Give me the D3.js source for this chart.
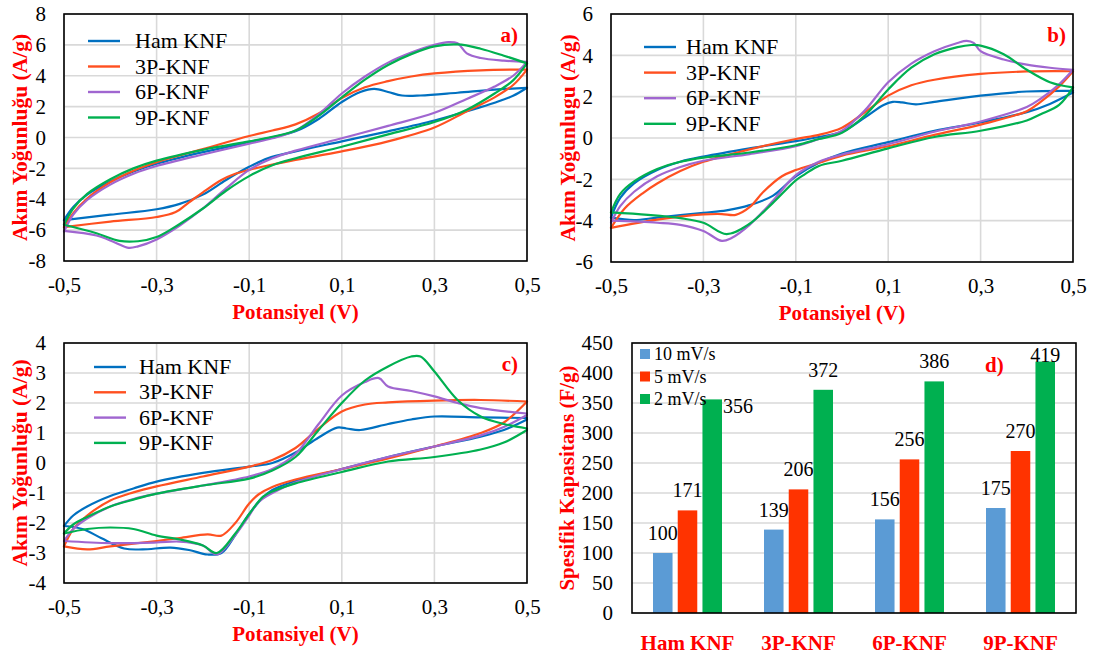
<!DOCTYPE html>
<html>
<head>
<meta charset="utf-8">
<script src="https://cdn.jsdelivr.net/npm/d3@7"></script>
<style>
  html, body { margin: 0; padding: 0; background: #fff; }
  svg { display: block; }
  svg text { font-family: "Liberation Serif", "Times New Roman", Tinos, "DejaVu Serif", serif; }
</style>
</head>
<body>
<svg id="fig" width="1096" height="654"></svg>
<script>
// ---------- shared axis values ----------
const potentialTicks = [-0.5, -0.3, -0.1, 0.1, 0.3, 0.5];
const sampleNames = ["Ham KNF", "3P-KNF", "6P-KNF", "9P-KNF"];
const scanRates = ["10 mV/s", "5 mV/s", "2 mV/s"];

// ---------- a) CV curves: [potential V, current A/g], anodic then cathodic scan ----------
const aHamFwd = [[-0.5,-5.35],[-0.48,-4.5],[-0.45,-3.7],[-0.4,-2.85],[-0.35,-2.2],[-0.3,-1.7],[-0.2,-0.95],[-0.1,-0.3],[0,0.4],[0.05,1.2],[0.1,2.3],[0.14,2.95],[0.17,3.15],[0.2,2.95],[0.23,2.72],[0.27,2.72],[0.35,2.9],[0.43,3.1],[0.5,3.22]];
const aHamRev = [[0.5,3.22],[0.47,2.7],[0.43,2.25],[0.37,1.7],[0.3,1.1],[0.2,0.4],[0.1,-0.25],[0,-0.9],[-0.06,-1.35],[-0.1,-1.9],[-0.15,-2.75],[-0.2,-3.7],[-0.25,-4.3],[-0.3,-4.65],[-0.4,-5.0],[-0.5,-5.35]];
const a3PFwd = [[-0.5,-5.8],[-0.48,-4.9],[-0.45,-3.95],[-0.4,-2.9],[-0.35,-2.15],[-0.3,-1.6],[-0.2,-0.75],[-0.1,0.1],[-0.05,0.45],[0,0.85],[0.05,1.55],[0.1,2.55],[0.15,3.25],[0.2,3.65],[0.25,3.95],[0.3,4.15],[0.4,4.35],[0.5,4.4]];
const a3PRev = [[0.5,4.4],[0.47,3.4],[0.43,2.6],[0.37,1.7],[0.3,0.65],[0.2,-0.25],[0.1,-0.9],[0,-1.45],[-0.05,-1.75],[-0.1,-2.1],[-0.13,-2.35],[-0.16,-2.75],[-0.2,-3.55],[-0.23,-4.2],[-0.26,-4.85],[-0.3,-5.15],[-0.4,-5.45],[-0.5,-5.8]];
const a6PFwd = [[-0.5,-6.1],[-0.48,-5.0],[-0.45,-4.05],[-0.4,-3.05],[-0.35,-2.35],[-0.3,-1.85],[-0.2,-1.1],[-0.1,-0.4],[-0.05,-0.05],[0,0.45],[0.05,1.5],[0.1,2.85],[0.15,3.95],[0.2,4.85],[0.25,5.5],[0.3,6.0],[0.33,6.18],[0.35,6.1],[0.37,5.45],[0.4,5.15],[0.45,4.98],[0.5,4.9]];
const a6PRev = [[0.5,4.9],[0.47,4.0],[0.43,3.3],[0.37,2.5],[0.3,1.6],[0.2,0.75],[0.1,-0.05],[0,-0.85],[-0.05,-1.35],[-0.1,-2.1],[-0.15,-3.3],[-0.2,-4.6],[-0.25,-5.7],[-0.3,-6.6],[-0.34,-7.05],[-0.36,-7.15],[-0.39,-6.8],[-0.43,-6.35],[-0.5,-6.05]];
const a9PFwd = [[-0.5,-5.65],[-0.48,-4.6],[-0.45,-3.65],[-0.4,-2.7],[-0.35,-2.0],[-0.3,-1.5],[-0.2,-0.8],[-0.1,-0.25],[-0.05,0.05],[0,0.45],[0.05,1.4],[0.1,2.6],[0.15,3.75],[0.2,4.7],[0.25,5.4],[0.3,5.9],[0.35,6.03],[0.4,5.75],[0.45,5.3],[0.5,4.8]];
const a9PRev = [[0.5,4.8],[0.47,3.7],[0.43,2.85],[0.37,1.8],[0.3,1.0],[0.2,0.2],[0.1,-0.6],[0,-1.35],[-0.05,-1.8],[-0.1,-2.5],[-0.15,-3.45],[-0.2,-4.6],[-0.25,-5.6],[-0.3,-6.45],[-0.34,-6.72],[-0.38,-6.7],[-0.43,-6.2],[-0.5,-5.65]];

// ---------- b) ----------
const bHamFwd = [[-0.5,-3.85],[-0.48,-2.9],[-0.45,-2.2],[-0.4,-1.55],[-0.35,-1.15],[-0.3,-0.9],[-0.2,-0.5],[-0.1,-0.15],[-0.05,0.05],[0,0.3],[0.05,1.0],[0.09,1.6],[0.11,1.75],[0.13,1.72],[0.16,1.63],[0.2,1.75],[0.3,2.05],[0.4,2.25],[0.5,2.28]];
const bHamRev = [[0.5,2.2],[0.45,1.65],[0.4,1.25],[0.3,0.75],[0.2,0.35],[0.1,-0.2],[0,-0.75],[-0.05,-1.2],[-0.1,-1.85],[-0.15,-2.8],[-0.2,-3.25],[-0.25,-3.5],[-0.3,-3.62],[-0.4,-3.85],[-0.45,-3.97],[-0.5,-3.85]];
const b3PFwd = [[-0.5,-4.35],[-0.47,-3.4],[-0.43,-2.65],[-0.4,-2.2],[-0.35,-1.6],[-0.3,-1.15],[-0.2,-0.55],[-0.1,-0.05],[-0.05,0.15],[0,0.5],[0.05,1.25],[0.1,2.05],[0.15,2.55],[0.2,2.82],[0.3,3.1],[0.4,3.22],[0.5,3.23]];
const b3PRev = [[0.5,3.23],[0.47,2.5],[0.43,1.75],[0.4,1.3],[0.3,0.65],[0.2,0.15],[0.1,-0.4],[0,-0.85],[-0.05,-1.2],[-0.1,-1.55],[-0.13,-1.85],[-0.17,-2.6],[-0.2,-3.35],[-0.23,-3.72],[-0.26,-3.68],[-0.3,-3.7],[-0.4,-3.95],[-0.5,-4.35]];
const b6PFwd = [[-0.5,-4.1],[-0.48,-3.3],[-0.45,-2.6],[-0.4,-1.85],[-0.35,-1.4],[-0.3,-1.1],[-0.2,-0.78],[-0.1,-0.4],[-0.05,-0.05],[0,0.35],[0.05,1.35],[0.1,2.7],[0.15,3.6],[0.2,4.2],[0.25,4.6],[0.27,4.7],[0.285,4.6],[0.3,4.2],[0.35,3.8],[0.4,3.55],[0.45,3.4],[0.5,3.3]];
const b6PRev = [[0.5,3.3],[0.47,2.6],[0.43,1.9],[0.4,1.5],[0.3,0.8],[0.2,0.3],[0.1,-0.3],[0,-0.8],[-0.05,-1.15],[-0.1,-1.8],[-0.15,-3.05],[-0.2,-4.2],[-0.24,-4.85],[-0.26,-4.98],[-0.3,-4.5],[-0.35,-4.2],[-0.4,-4.1],[-0.5,-4.0]];
const b9PFwd = [[-0.5,-3.6],[-0.48,-2.7],[-0.45,-2.1],[-0.4,-1.5],[-0.35,-1.15],[-0.3,-0.95],[-0.2,-0.7],[-0.1,-0.35],[-0.05,-0.05],[0,0.25],[0.05,1.1],[0.1,2.35],[0.15,3.4],[0.2,4.05],[0.25,4.4],[0.28,4.5],[0.3,4.47],[0.35,4.05],[0.4,3.3],[0.45,2.7],[0.5,2.45]];
const b9PRev = [[0.5,2.45],[0.47,1.6],[0.43,1.15],[0.4,0.85],[0.3,0.35],[0.2,0.05],[0.1,-0.5],[0,-1.1],[-0.05,-1.35],[-0.08,-1.75],[-0.1,-2.05],[-0.15,-3.15],[-0.2,-4.15],[-0.25,-4.65],[-0.3,-4.1],[-0.35,-3.88],[-0.42,-3.72],[-0.5,-3.6]];

// ---------- c) ----------
const cHamFwd = [[-0.5,-2.1],[-0.48,-1.75],[-0.45,-1.45],[-0.4,-1.1],[-0.35,-0.85],[-0.3,-0.62],[-0.2,-0.33],[-0.1,-0.12],[-0.05,0.0],[0,0.35],[0.05,0.85],[0.09,1.18],[0.11,1.15],[0.14,1.1],[0.2,1.3],[0.25,1.45],[0.3,1.55],[0.4,1.52],[0.5,1.5]];
const cHamRev = [[0.5,1.45],[0.45,1.1],[0.4,0.88],[0.3,0.55],[0.2,0.2],[0.1,-0.2],[0,-0.6],[-0.05,-0.9],[-0.07,-1.15],[-0.1,-1.7],[-0.13,-2.4],[-0.16,-3.0],[-0.19,-3.05],[-0.23,-2.9],[-0.27,-2.82],[-0.33,-2.88],[-0.37,-2.85],[-0.42,-2.5],[-0.46,-2.2],[-0.5,-2.1]];
const c3PFwd = [[-0.5,-2.78],[-0.48,-2.2],[-0.45,-1.75],[-0.4,-1.25],[-0.35,-0.98],[-0.3,-0.78],[-0.2,-0.45],[-0.1,-0.12],[-0.05,0.1],[0,0.5],[0.05,1.15],[0.1,1.72],[0.15,1.95],[0.2,2.02],[0.3,2.08],[0.4,2.1],[0.5,2.05]];
const c3PRev = [[0.5,2.05],[0.45,1.35],[0.4,1.0],[0.3,0.55],[0.2,0.15],[0.1,-0.2],[0,-0.55],[-0.05,-0.8],[-0.08,-1.05],[-0.1,-1.35],[-0.13,-2.0],[-0.16,-2.42],[-0.19,-2.38],[-0.25,-2.5],[-0.3,-2.6],[-0.4,-2.78],[-0.45,-2.88],[-0.5,-2.78]];
const c6PFwd = [[-0.5,-2.6],[-0.48,-2.2],[-0.45,-1.85],[-0.4,-1.45],[-0.35,-1.2],[-0.3,-1.02],[-0.2,-0.75],[-0.1,-0.45],[-0.05,-0.2],[0,0.3],[0.05,1.3],[0.1,2.25],[0.15,2.7],[0.18,2.83],[0.2,2.55],[0.25,2.4],[0.3,2.22],[0.35,2.0],[0.4,1.83],[0.5,1.65]];
const c6PRev = [[0.5,1.6],[0.45,1.2],[0.4,0.92],[0.3,0.55],[0.2,0.2],[0.1,-0.2],[0,-0.65],[-0.05,-1.0],[-0.08,-1.3],[-0.1,-1.75],[-0.13,-2.4],[-0.17,-3.05],[-0.2,-2.75],[-0.25,-2.62],[-0.3,-2.65],[-0.4,-2.67],[-0.5,-2.6]];
const c9PFwd = [[-0.5,-2.35],[-0.48,-2.05],[-0.45,-1.8],[-0.4,-1.45],[-0.35,-1.22],[-0.3,-1.02],[-0.2,-0.75],[-0.1,-0.52],[-0.05,-0.25],[0,0.2],[0.05,1.1],[0.1,2.0],[0.15,2.75],[0.2,3.22],[0.25,3.55],[0.27,3.55],[0.3,3.05],[0.35,2.1],[0.4,1.55],[0.45,1.3],[0.5,1.15]];
const c9PRev = [[0.5,1.1],[0.45,0.68],[0.4,0.45],[0.3,0.2],[0.2,0.05],[0.1,-0.3],[0,-0.68],[-0.05,-0.95],[-0.07,-1.12],[-0.1,-1.7],[-0.13,-2.35],[-0.17,-3.0],[-0.2,-2.75],[-0.25,-2.55],[-0.3,-2.42],[-0.35,-2.2],[-0.4,-2.15],[-0.45,-2.2],[-0.5,-2.35]];

// ---------- d) specific capacitance (F/g) ----------
const capacitance10 = [100, 139, 156, 175];
const capacitance5  = [171, 206, 256, 270];
const capacitance2  = [356, 372, 386, 419];

// ---------- styling ----------
const titleRed = "#ff0000";
const gridGray = "#d9d9d9";
const lineColors = ["#0070C0", "#FF5020", "#A066D0", "#00B050"];
const barColors = ["#5B9BD5", "#FF3300", "#00B050"];
const fmt = d => String(d).replace(".", ",");

const svg = d3.select("#fig");
svg.append("rect").attr("width", 1096).attr("height", 654).attr("fill", "#fff");

function drawCV(cfg) {
  const g = svg.append("g");
  const x = d3.scaleLinear().domain([-0.5, 0.5]).range([cfg.left, cfg.right]);
  const y = d3.scaleLinear().domain(cfg.yDomain).range([cfg.bottom, cfg.top]);
  const yTicks = d3.range(cfg.yDomain[0], cfg.yDomain[1] + 1e-9, cfg.yStep);

  // grid
  g.append("g").selectAll("line").data(yTicks).join("line")
    .attr("x1", cfg.left).attr("x2", cfg.right)
    .attr("y1", d => y(d)).attr("y2", d => y(d))
    .attr("stroke", gridGray).attr("stroke-width", 1.6);
  g.append("g").selectAll("line").data(potentialTicks).join("line")
    .attr("x1", d => x(d)).attr("x2", d => x(d))
    .attr("y1", cfg.top).attr("y2", cfg.bottom)
    .attr("stroke", gridGray).attr("stroke-width", 1.6);

  // voltammograms, one path per scan direction
  const line = d3.line().x(d => x(d[0])).y(d => y(d[1])).curve(d3.curveCatmullRom.alpha(0.5));
  cfg.series.forEach((s, i) => {
    [s[0], s[1]].forEach(branch => {
      g.append("path").attr("d", line(branch))
        .attr("fill", "none").attr("stroke", lineColors[i])
        .attr("stroke-width", 2.2).attr("stroke-linejoin", "round").attr("stroke-linecap", "round");
    });
  });

  // frame
  g.append("rect").attr("x", cfg.left).attr("y", cfg.top)
    .attr("width", cfg.right - cfg.left).attr("height", cfg.bottom - cfg.top)
    .attr("fill", "none").attr("stroke", "#000").attr("stroke-width", 1.6);

  // axes
  const ya = g.append("g").attr("transform", `translate(${cfg.left},0)`)
    .call(d3.axisLeft(y).tickValues(yTicks).tickSize(0).tickPadding(18).tickFormat(fmt));
  ya.select(".domain").remove();
  ya.selectAll("text").attr("font-size", 21).attr("fill", "#000");

  const xa = g.append("g").attr("transform", `translate(0,${cfg.bottom})`)
    .call(d3.axisBottom(x).tickValues(potentialTicks).tickSize(0).tickPadding(16).tickFormat(fmt));
  xa.select(".domain").remove();
  xa.selectAll("text").attr("font-size", 21).attr("fill", "#000");

  // titles
  g.append("text").attr("x", (cfg.left + cfg.right) / 2).attr("y", cfg.bottom + 58)
    .attr("text-anchor", "middle").attr("font-weight", "bold")
    .attr("font-size", 21).attr("fill", titleRed).text("Potansiyel (V)");
  g.append("text")
    .attr("transform", `translate(${cfg.ytitleX},${(cfg.top + cfg.bottom) / 2}) rotate(-90)`)
    .attr("text-anchor", "middle").attr("font-weight", "bold")
    .attr("font-size", 21.5).attr("fill", titleRed).text(cfg.ytitle);

  // panel tag
  g.append("text").attr("x", cfg.right - cfg.tagInset).attr("y", cfg.top + 28)
    .attr("text-anchor", "end").attr("font-weight", "bold")
    .attr("font-size", 21).attr("fill", titleRed).text(cfg.tag);

  // legend
  const lg = g.append("g");
  sampleNames.forEach((name, i) => {
    const cy = cfg.legY + i * cfg.legStep;
    lg.append("line").attr("x1", cfg.legX).attr("x2", cfg.legX + 32)
      .attr("y1", cy).attr("y2", cy).attr("stroke", lineColors[i]).attr("stroke-width", 2.4);
    lg.append("text").attr("x", cfg.legX + cfg.legTextGap).attr("y", cy + 7)
      .attr("font-size", 22).attr("fill", "#000").text(name);
  });
}

drawCV({
  left: 64, right: 527, top: 14, bottom: 261, yDomain: [-8, 8], yStep: 2,
  ytitle: "Akım Yoğunluğu (A/g)", ytitleX: 27, tag: "a)", tagInset: 9,
  legX: 88, legY: 41, legStep: 25.5, legTextGap: 47,
  series: [[aHamFwd, aHamRev], [a3PFwd, a3PRev], [a6PFwd, a6PRev], [a9PFwd, a9PRev]]
});
drawCV({
  left: 611, right: 1073, top: 14, bottom: 262, yDomain: [-6, 6], yStep: 2,
  ytitle: "Akım Yoğunlugu (A/g)", ytitleX: 575, tag: "b)", tagInset: 7,
  legX: 644, legY: 47, legStep: 25.6, legTextGap: 42,
  series: [[bHamFwd, bHamRev], [b3PFwd, b3PRev], [b6PFwd, b6PRev], [b9PFwd, b9PRev]]
});
drawCV({
  left: 64, right: 527, top: 343, bottom: 583, yDomain: [-4, 4], yStep: 1,
  ytitle: "Akım Yoğunluğu (A/g)", ytitleX: 27, tag: "c)", tagInset: 9,
  legX: 94, legY: 367, legStep: 25.3, legTextGap: 45,
  series: [[cHamFwd, cHamRev], [c3PFwd, c3PRev], [c6PFwd, c6PRev], [c9PFwd, c9PRev]]
});

// ---------- d) grouped bars ----------
(function drawBars() {
  const L = 632, R = 1076, T = 343, B = 613;
  const g = svg.append("g");
  const x0 = d3.scaleBand().domain(sampleNames).range([L, R]).padding(0);
  const groupW = 69;
  const x1 = d3.scaleBand().domain(scanRates)
    .range([(x0.bandwidth() - groupW) / 2, (x0.bandwidth() + groupW) / 2]).paddingInner(0.21).paddingOuter(0);
  const y = d3.scaleLinear().domain([0, 450]).range([B, T]);
  const yTicks = d3.range(0, 451, 50);
  const seriesVals = [capacitance10, capacitance5, capacitance2];

  g.append("g").selectAll("line").data(yTicks).join("line")
    .attr("x1", L).attr("x2", R).attr("y1", d => y(d)).attr("y2", d => y(d))
    .attr("stroke", gridGray).attr("stroke-width", 1.6);

  const rows = sampleNames.flatMap((c, ci) => scanRates.map((r, ri) => ({ c, r, ri, v: seriesVals[ri][ci] })));
  g.append("g").selectAll("rect").data(rows).join("rect")
    .attr("x", d => x0(d.c) + x1(d.r)).attr("width", x1.bandwidth())
    .attr("y", d => y(d.v)).attr("height", d => B - y(d.v))
    .attr("fill", d => barColors[d.ri]);

  // frame
  g.append("rect").attr("x", L).attr("y", T).attr("width", R - L).attr("height", B - T)
    .attr("fill", "none").attr("stroke", "#000").attr("stroke-width", 1.6);

  // legend
  const legX = 640, legY0 = 354, legStep = 22.5;
  scanRates.forEach((r, i) => {
    g.append("rect").attr("x", legX).attr("y", legY0 + i * legStep - 5).attr("width", 10).attr("height", 10)
      .attr("fill", barColors[i]);
    g.append("text").attr("x", legX + 14).attr("y", legY0 + i * legStep + 6)
      .attr("font-size", 18).attr("fill", "#000").text(r);
  });
  const legBox = { x0: legX, x1: legX + 80, y0: legY0 - 12, y1: legY0 + 2 * legStep + 12 };

  // value labels
  rows.forEach(d => {
    const bx = x0(d.c) + x1(d.r), bw = x1.bandwidth(), top = y(d.v);
    let cx = bx + bw / 2;
    let base = Math.max(top - 13, T + 19);
    let anchor = "middle";
    const halfW = 16;
    const hits = cx + halfW > legBox.x0 && cx - halfW < legBox.x1 && base > legBox.y0 && base - 14 < legBox.y1;
    if (hits) { cx = bx + bw + 1; base = top + 14; anchor = "start"; }
    g.append("text").attr("x", cx).attr("y", base).attr("text-anchor", anchor)
      .attr("font-size", 20).attr("fill", "#000").text(d.v);
  });

  // axes
  const ya = g.append("g").attr("transform", `translate(${L},0)`)
    .call(d3.axisLeft(y).tickValues(yTicks).tickSize(0).tickPadding(19));
  ya.select(".domain").remove();
  ya.selectAll("text").attr("font-size", 21).attr("fill", "#000");

  const xa = g.append("g").attr("transform", `translate(0,${B})`)
    .call(d3.axisBottom(x0).tickSize(0).tickPadding(22));
  xa.select(".domain").remove();
  xa.selectAll("text").attr("font-size", 21).attr("font-weight", "bold").attr("fill", titleRed);

  g.append("text")
    .attr("transform", `translate(574,${(T + B) / 2}) rotate(-90)`)
    .attr("text-anchor", "middle").attr("font-weight", "bold")
    .attr("font-size", 21).attr("fill", titleRed).text("Spesifik Kapasitans (F/g)");

  g.append("text").attr("x", 985).attr("y", 372)
    .attr("font-weight", "bold")
    .attr("font-size", 21).attr("fill", titleRed).text("d)");
})();
</script>
</body>
</html>
